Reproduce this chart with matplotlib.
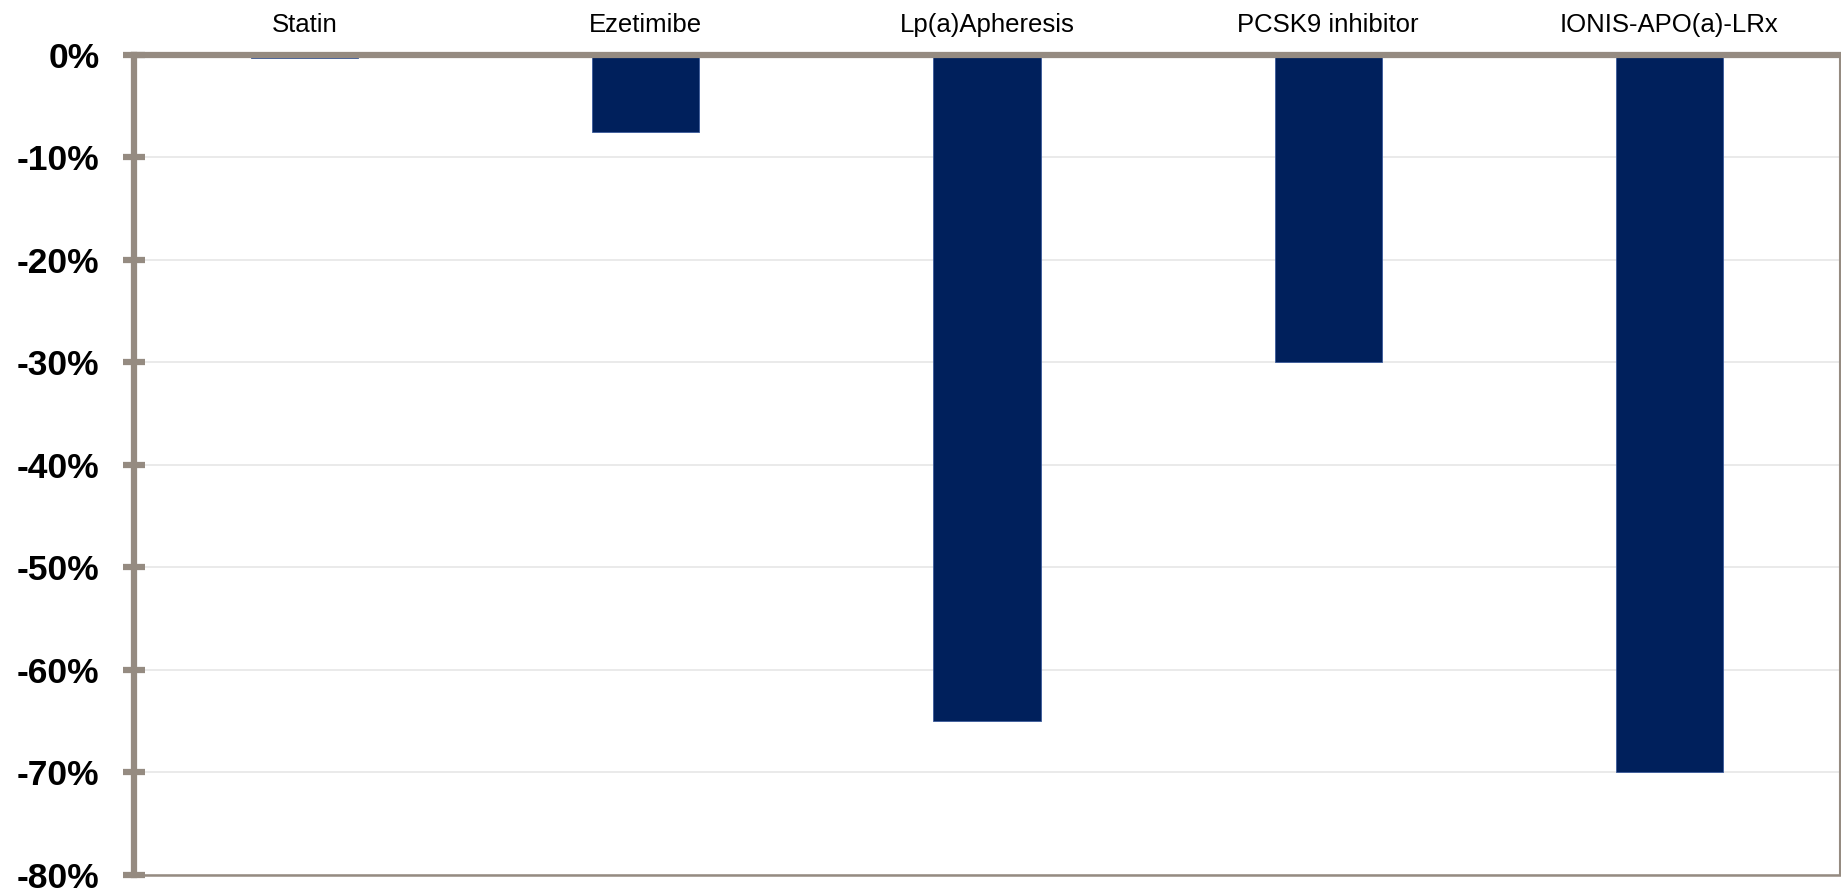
import matplotlib
matplotlib.use("Agg")
import matplotlib.pyplot as plt
from matplotlib.ticker import MultipleLocator, FuncFormatter

# Lp(a) reduction by therapy (percent change)
therapies = ["Statin", "Ezetimibe", "Lp(a)Apheresis", "PCSK9 inhibitor", "IONIS-APO(a)-LRx"]
lpa_change = [-0.3, -7.5, -65, -30, -70]

bar_color = "#00205c"
frame_color = "#958b81"
grid_color = "#e6e6e6"

plt.rcParams["font.family"] = ["Liberation Sans", "DejaVu Sans"]

fig = plt.figure(figsize=(18.41, 8.93), dpi=100)
ax = fig.add_axes([134 / 1841, 1 - 874.5 / 893, (1840 - 134) / 1841, (874.5 - 55) / 893])

x = range(len(therapies))
ax.bar(x, lpa_change, width=0.314, color=bar_color, edgecolor="#3a5a9a",
       linewidth=0.6, zorder=3)

ax.set_xlim(-0.5, len(therapies) - 0.5)
ax.set_ylim(-80, 0)
ax.yaxis.set_major_locator(MultipleLocator(10))
ax.yaxis.set_major_formatter(FuncFormatter(lambda v, _: f"{v:.0f}%"))
ax.grid(axis="y", color=grid_color, linewidth=1.2, zorder=0)
ax.set_axisbelow(True)

# Category labels sit above the zero line
ax.xaxis.tick_top()
ax.set_xticks(list(x))
ax.set_xticklabels(therapies, fontsize=18.5)
ax.tick_params(axis="x", length=0, pad=13)

ax.tick_params(axis="y", direction="inout", length=16, width=4.5, color=frame_color,
               labelsize=25.5, pad=17)
for lab in ax.get_yticklabels():
    lab.set_fontweight("bold")

ax.spines["top"].set_color(frame_color)
ax.spines["top"].set_linewidth(4.5)
ax.spines["top"].set_zorder(4)
ax.spines["left"].set_color(frame_color)
ax.spines["left"].set_linewidth(4.5)
ax.spines["bottom"].set_color(frame_color)
ax.spines["bottom"].set_linewidth(1.8)
ax.spines["right"].set_color(frame_color)
ax.spines["right"].set_linewidth(1.5)

fig.savefig("out.png", dpi=100, facecolor="white")
